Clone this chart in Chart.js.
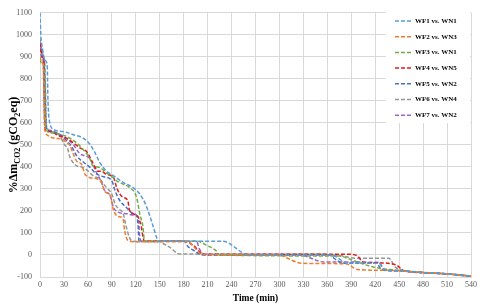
<!DOCTYPE html>
<html>
<head>
<meta charset="utf-8">
<script src="https://cdn.jsdelivr.net/npm/chart.js@4"></script>
<style>
  body { margin: 0; background: #fff; }
</style>
</head>
<body>
<canvas id="massChart" width="480" height="304"></canvas>
<script>
// series labels and colours
var seriesLabels = ['WF1 vs. WN1', 'WF2 vs. WN3', 'WF3 vs. WN1', 'WF4 vs. WN5', 'WF5 vs. WN2', 'WF6 vs. WN4', 'WF7 vs. WN2'];
var seriesColors = ['#5B9BD5', '#ED7D31', '#70AD47', '#E31A1C', '#4472C4', '#969696', '#9966CC'];

// [time (min), %Δm]
var wf1 = [[0,1100],[1,1000],[3,940],[6,885],[9,865],[10,700],[13,590],[16,572],[30,560],[42,546],[54,531],[62,505],[69,464],[75,420],[83,382],[94,355],[104,330],[117,305],[125,277],[133,224],[142,127],[146,80],[148,62],[229,62],[262,0],[365,0],[385,-36],[425,-38],[432,-68],[450,-72],[480,-80],[510,-86],[540,-96]];
var wf2 = [[0,900],[2,875],[4,865],[6,570],[8,548],[17,531],[29,524],[33,509],[37,500],[42,456],[46,426],[52,412],[56,370],[62,352],[72,345],[77,330],[81,290],[88,270],[92,205],[98,175],[104,165],[106,112],[110,67],[117,60],[185,60],[192,40],[204,2],[296,0],[329,-38],[383,-40],[398,-66],[440,-70],[480,-80],[510,-86],[540,-96]];
var wf3 = [[0,890],[2,870],[5,860],[7,580],[12,556],[33,539],[46,509],[54,479],[62,441],[65,412],[67,404],[75,397],[83,374],[92,350],[96,337],[104,322],[112,307],[121,262],[125,187],[129,127],[131,62],[198,62],[208,45],[221,18],[225,0],[375,-5],[390,-22],[408,-45],[425,-60],[450,-70],[480,-79],[510,-86],[540,-96]];
var wf4 = [[0,960],[3,900],[5,870],[6,575],[9,562],[17,554],[25,539],[33,531],[42,509],[50,486],[58,471],[66,420],[73,380],[77,380],[83,367],[92,352],[96,307],[100,277],[104,262],[110,247],[112,205],[117,187],[123,172],[127,127],[129,82],[131,62],[181,62],[192,44],[200,15],[206,3],[390,3],[398,-5],[405,-33],[425,-36],[446,-45],[456,-72],[480,-80],[510,-86],[540,-96]];
var wf5 = [[0,940],[2,900],[5,880],[8,580],[11,565],[25,545],[33,520],[40,490],[46,450],[55,420],[62,400],[70,370],[80,355],[90,337],[94,292],[100,247],[108,217],[117,187],[121,180],[123,127],[124,62],[181,62],[185,40],[192,22],[204,0],[362,0],[371,-22],[379,-37],[422,-38],[428,-68],[450,-72],[480,-80],[510,-86],[540,-96]];
var wf6 = [[0,980],[2,940],[4,900],[6,880],[8,590],[14,560],[25,540],[30,505],[35,479],[37,450],[44,410],[54,397],[60,382],[67,359],[75,344],[83,307],[90,277],[94,232],[100,205],[104,190],[108,130],[112,80],[116,62],[150,60],[154,52],[162,37],[175,4],[350,4],[380,-5],[395,-15],[437,-15],[446,-58],[480,-80],[510,-86],[540,-96]];
var wf7 = [[0,970],[2,930],[4,880],[6,600],[9,570],[14,565],[25,548],[33,530],[42,500],[50,460],[62,440],[70,380],[77,330],[81,292],[88,269],[92,217],[98,195],[110,187],[117,180],[123,172],[125,82],[127,62],[196,62],[200,25],[208,0],[325,0],[356,-32],[425,-33],[430,-66],[450,-72],[480,-80],[510,-86],[540,-98]];

var seriesData = [wf1, wf2, wf3, wf4, wf5, wf6, wf7];

var serif = "'Liberation Serif', 'Times New Roman', serif";

var datasets = seriesData.map(function (pts, i) {
  return {
    label: seriesLabels[i],
    data: pts.map(function (p) { return { x: p[0], y: p[1] }; }),
    borderColor: seriesColors[i],
    backgroundColor: seriesColors[i],
    borderWidth: 1.5,
    borderDash: [4, 2],
    pointRadius: 0,
    tension: 0.3,
    cubicInterpolationMode: 'monotone',
    fill: false
  };
});

// y title with subscripts, drawn by hand
var yTitlePlugin = {
  id: 'yTitle',
  afterDraw: function (chart) {
    var ctx = chart.ctx;
    var area = chart.chartArea;
    var parts = [
      { t: '%Δm', s: 12, dy: 0 },
      { t: 'CO2', s: 8, dy: 3 },
      { t: ' (gCO', s: 12, dy: 0 },
      { t: '2', s: 8, dy: 3 },
      { t: 'eq)', s: 12, dy: 0 }
    ];
    ctx.save();
    var total = 0;
    parts.forEach(function (p) {
      ctx.font = 'bold ' + p.s + 'px ' + serif;
      p.w = ctx.measureText(p.t).width;
      total += p.w;
    });
    ctx.translate(17, (area.top + area.bottom) / 2);
    ctx.rotate(-Math.PI / 2);
    ctx.fillStyle = '#000';
    ctx.textBaseline = 'alphabetic';
    var x = -total / 2;
    parts.forEach(function (p) {
      ctx.font = 'bold ' + p.s + 'px ' + serif;
      ctx.fillText(p.t, x, p.dy);
      x += p.w;
    });
    ctx.restore();
  }
};

// legend box inside the plot, top right
var boxLegendPlugin = {
  id: 'boxLegend',
  afterDatasetsDraw: function (chart) {
    var ctx = chart.ctx;
    ctx.save();
    ctx.fillStyle = '#fff';
    ctx.fillRect(386, 12, 84, 111);
    ctx.font = 'bold 7px ' + serif;
    ctx.textBaseline = 'middle';
    ctx.textAlign = 'left';
    seriesLabels.forEach(function (lbl, i) {
      var y = 21 + i * 15.7;
      ctx.strokeStyle = seriesColors[i];
      ctx.lineWidth = 1.5;
      ctx.setLineDash([4, 2]);
      ctx.beginPath();
      ctx.moveTo(395, y);
      ctx.lineTo(413, y);
      ctx.stroke();
      ctx.setLineDash([]);
      ctx.fillStyle = '#000';
      ctx.fillText(lbl, 415, y);
    });
    ctx.restore();
  }
};

var ctx = document.getElementById('massChart').getContext('2d');
var massChart = new Chart(ctx, {
  type: 'line',
  data: { datasets: datasets },
  options: {
    responsive: false,
    animation: false,
    layout: { padding: { top: 10, right: 8, left: 0, bottom: 0 } },
    plugins: {
      legend: { display: false },
      tooltip: { enabled: false }
    },
    scales: {
      x: {
        type: 'linear',
        min: 0,
        max: 540,
        ticks: {
          stepSize: 30, padding: 3, color: '#595959', maxRotation: 0,
          font: { family: serif, size: 8 },
          callback: function (v) { return String(v); }
        },
        grid: { color: '#d9d9d9', drawTicks: false },
        border: { color: '#d9d9d9' },
        title: { display: true, text: 'Time (min)', color: '#000', font: { family: serif, size: 9.5, weight: 'bold' }, padding: 0 },
        afterFit: function (scale) { scale.height = 27; }
      },
      y: {
        min: -100,
        max: 1100,
        ticks: {
          stepSize: 100, padding: 8, color: '#595959',
          font: { family: serif, size: 8 },
          callback: function (v) { return String(v); }
        },
        grid: { color: '#d9d9d9', drawTicks: false },
        border: { color: '#d9d9d9' },
        afterFit: function (scale) { scale.width = 40; }
      }
    }
  },
  plugins: [yTitlePlugin, boxLegendPlugin]
});
</script>
</body>
</html>
